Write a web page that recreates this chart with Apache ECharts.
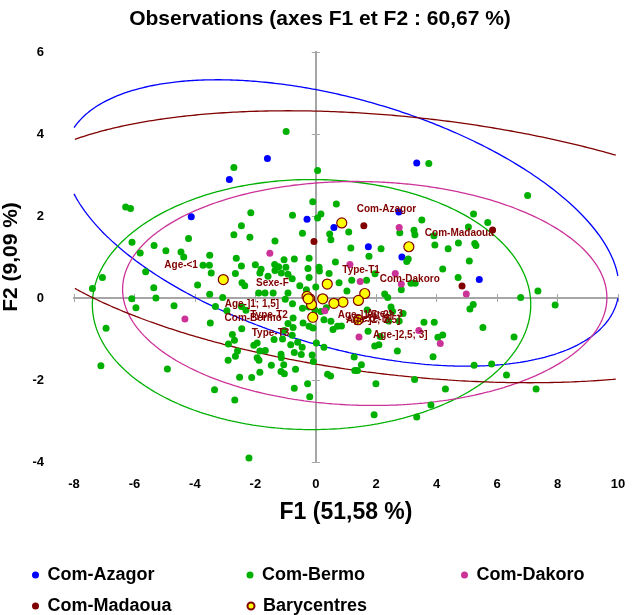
<!DOCTYPE html>
<html>
<head>
<meta charset="utf-8">
<script src="https://cdn.jsdelivr.net/npm/echarts@6/dist/echarts.min.js"></script>
<style>
html, body { margin: 0; padding: 0; background: #fff; }
#chart { width: 640px; height: 615px; }
</style>
</head>
<body>
<div id="chart"></div>
<script>
// observations on F1 / F2, one array per commune
var azagor = [[-1.60,3.40],[-2.86,2.89],[-4.12,1.98],[-0.29,1.92],[0.60,1.72],[3.34,3.29],[2.75,2.10],[1.74,1.25],[2.85,1.00],[5.41,0.45]];
var madaoua = [[-0.06,1.38],[1.59,1.76],[5.85,1.66],[4.84,0.29]];
var dakoro = [[-1.52,1.09],[-4.33,-0.51],[0.30,-0.31],[2.76,1.72],[1.13,0.82],[1.47,0.40],[2.63,0.60],[2.83,0.34],[4.98,0.10],[1.43,-0.95],[3.41,-0.79],[4.12,-1.11]];
var bermo = [
[-0.98,4.06],[-2.71,3.18],[0.06,3.11],[3.74,3.28],[-6.29,2.22],[-6.13,2.18],[-2.15,2.08],[-0.10,2.35],[0.68,2.29],[-0.77,2.02],
[0.17,2.05],[0.06,1.95],[7.01,2.50],[5.22,2.05],[3.51,1.90],[5.69,1.84],[-2.46,1.76],[-2.71,1.54],[-2.18,1.48],[-1.35,1.39],
[-0.44,1.58],[0.46,1.56],[0.50,1.42],[1.09,1.61],[2.78,1.59],[3.25,1.65],[3.28,1.54],[3.91,1.52],[5.05,1.73],[4.72,1.34],
[5.26,1.33],[5.30,1.28],[3.94,1.29],[4.38,1.20],[1.16,1.22],[2.16,1.20],[1.76,1.02],[3.06,0.95],[3.01,0.89],[5.08,0.90],
[4.20,0.71],[-4.21,1.45],[-6.08,1.36],[-5.35,1.28],[-5.81,1.10],[-4.96,1.15],[-4.46,1.12],[-4.37,1.00],[-3.51,1.04],[-2.63,0.97],
[-2.46,0.78],[-2.00,0.81],[-1.81,0.70],[-1.36,0.82],[-1.23,0.76],[-1.05,0.93],[-0.99,0.75],[-0.71,0.95],[-0.22,0.97],[-0.26,0.72],
[0.11,0.75],[0.65,0.88],[-3.73,0.80],[-3.52,0.80],[0.12,0.66],[0.44,0.60],[0.77,0.37],[1.19,0.43],[1.68,0.43],[1.96,0.59],
[1.03,0.17],[2.83,0.20],[3.15,0.36],[3.29,0.36],[4.71,0.50],[2.28,0.10],[2.38,0.01],[-0.53,0.30],[-0.31,0.20],[0.00,0.27],
[6.78,0.01],[7.35,0.17],[7.92,-0.17],[5.21,-0.16],[5.10,-0.27],[5.53,-0.72],[6.56,-0.95],[3.92,-0.59],[4.04,-0.96],[4.20,-0.90],
[2.09,-1.14],[1.95,-1.17],[1.73,-0.81],[2.13,-0.94],[2.70,-1.29],[3.88,-1.43],[1.27,-1.44],[1.51,-1.63],[1.29,-1.77],[1.38,-1.77],
[0.27,-1.20],[0.02,-1.10],[-0.12,-1.39],[-0.08,-1.55],[-0.45,-1.20],[-0.48,-1.38],[0.39,-1.86],[0.49,-1.90],[-0.27,-2.09],[-0.20,-2.41],
[1.99,-2.09],[3.27,-1.99],[4.29,-2.22],[5.24,-1.64],[5.82,-1.61],[6.31,-1.88],[7.29,-2.22],[3.81,-2.61],[3.34,-2.90],[1.93,-2.85],
[2.49,-0.22],[2.54,-0.33],[-0.03,-0.29],[0.27,-0.53],[0.50,-0.57],[0.72,-0.69],[0.85,-0.68],[1.70,-0.29],[2.41,-0.56],[2.76,-0.56],
[2.89,-0.38],[3.58,-0.59],
[-5.63,0.64],[-7.06,0.50],[-7.39,0.23],[-5.36,0.25],[-5.29,0.00],[-6.09,-0.02],[-5.95,-0.24],[-6.94,-0.74],[-7.11,-1.65],[-4.91,-1.73],
[-4.69,-0.19],[-3.91,0.32],[-3.51,0.09],[-3.46,0.61],[-3.32,-0.21],[-3.49,-0.61],[-3.08,0.01],[-2.44,0.37],[-2.35,0.30],[-1.89,0.12],
[-2.66,0.60],[-1.85,0.61],[-1.58,0.53],[-1.35,0.67],[-1.14,0.61],[-0.92,0.58],[-0.78,0.47],[-0.22,0.50],[-0.92,0.12],[-1.41,0.12],
[-1.01,-0.03],[-1.68,0.12],[-2.46,-0.21],[-2.31,-0.30],[-2.94,-0.31],[-2.76,-0.89],[-2.69,-1.03],[-2.45,-0.75],[-2.89,-1.12],[-2.59,-1.29],
[-2.66,-1.42],[-2.90,-1.52],[-2.05,-1.15],[-1.94,-1.10],[-1.85,-1.29],[-1.67,-1.28],[-1.94,-1.46],[-1.88,-1.52],[-1.47,-1.64],[-1.15,-1.37],
[-1.14,-1.46],[-1.06,-1.63],[-1.85,-1.81],[-1.15,-1.79],[-1.04,-1.85],[-0.67,-1.74],[-2.52,-1.93],[-2.12,-1.94],[-3.35,-2.24],[-2.68,-2.49],
[-0.71,-2.20],[-2.21,-3.90],[-0.71,-1.33],[-0.83,-1.14],[-0.60,-1.08],[-1.04,-0.79],[-0.78,-0.91],[-0.92,-0.62],[-1.38,-1.01],[-1.10,-1.00],
[-0.75,-0.72],[-0.42,-0.61],[-0.22,-0.69],[-0.09,-0.73],[0.57,-0.77],[-0.44,-0.25],[-0.23,-0.22],[0.17,-0.33],[0.35,-0.24],[-0.75,-0.49],
[-0.77,-0.14]
];

// barycentres of the modalities
var baryNames = ['Age-<1','Com-Azagor','Com-Madaoua','Type-T1','Com-Dakoro','Age-> 3','Sexe-M','Age-]2; 2,5]','Age-]1,5; 2]',
                 'Age-]1; 1,5]','Sexe-F','Com-Bermo','Type-T3','Age-]2,5; 3]','Type-T2'];
var baryValues = [[-3.06,0.45],[0.86,1.83],[3.08,1.25],[0.38,0.34],[1.62,0.11],[1.41,-0.06],[0.90,-0.10],[0.60,-0.13],[0.23,-0.02],
                  [-0.20,-0.02],[-0.29,0.04],[-0.14,-0.16],[-0.10,-0.47],[1.40,-0.53],[-0.25,-0.02]];
// label placement (pixels from the point), same order as baryNames
var labelOffsets = [[-59,-14],[15,-14],[16,-14],[15,-14],[15,-14],[8,14],[12,17],[12,17],[15,16],
                    [-85,5],[-51,-13],[-87,14],[-61,16],[15,16],[-58,16]];

// confidence ellipses: centre x, centre y, var x, cov xy, var y
var ellAzagor = [0.86, 1.83, 84.1, -14.4, 12.2];
var ellBermo = [-0.14, -0.16, 52.6, 0, 9.3];
var ellDakoro = [1.62, 0.11, 64.2, -0.81, 7.46];
var ellMadaoua = [3.08, 1.25, 182, -13.2, 11.0];

var X_MIN = -8, X_MAX = 10, Y_MIN = -4, Y_MAX = 6;
var BLUE = '#0000ff', GREEN = '#00b000', PINK = '#cc3399', DARKRED = '#800000';
var FONT = 'Liberation Sans';

// outline of an ellipse given by its centre and covariance, '-' where it leaves the plot
function ellipseOutline(e) {
  var l11 = Math.sqrt(e[2]), l21 = e[3] / l11, l22 = Math.sqrt(e[4] - l21 * l21);
  var out = [];
  var n = 720;
  for (var i = 0; i <= n; i++) {
    var t = i / n * 2 * Math.PI;
    var x = e[0] + l11 * Math.cos(t);
    var y = e[1] + l21 * Math.cos(t) + l22 * Math.sin(t);
    if (x >= X_MIN && x <= X_MAX && y >= Y_MIN && y <= Y_MAX) out.push([x, y]);
    else out.push('-');
  }
  return out;
}

function ellipseSeries(name, e, color) {
  return {
    name: name, type: 'line', data: ellipseOutline(e),
    showSymbol: false, symbol: 'none', connectNulls: false, silent: true, clip: true,
    lineStyle: { color: color, width: 1.3 }, itemStyle: { color: color },
    z: 1
  };
}

function dotSeries(name, data, color) {
  return {
    name: name, type: 'scatter', data: data, symbol: 'circle', symbolSize: 7,
    itemStyle: { color: color, opacity: 1 }, z: 3
  };
}

var baryData = [];
for (var i = 0; i < baryValues.length; i++) {
  baryData.push({
    name: baryNames[i],
    value: baryValues[i],
    label: { offset: labelOffsets[i] }
  });
}

var zeroLine = { color: '#a6a6a6', width: 2 };
var legendText = { fontFamily: FONT, fontWeight: 'bold', fontSize: 18, color: '#000', width: 185, lineHeight: 20 };

var myChart = echarts.init(document.getElementById('chart'));
var option = {
  animation: false,
  backgroundColor: '#fff',
  title: {
    text: 'Observations (axes F1 et F2 : 60,67 %)',
    left: 'center', top: 9, padding: 0,
    textStyle: { fontFamily: FONT, fontWeight: 'bold', fontSize: 21, color: '#000' }
  },
  legend: [
    {
      data: ['Com-Azagor', 'Com-Bermo', 'Com-Dakoro'],
      left: 32, top: 565, width: 720, padding: 0, itemGap: 14,
      itemWidth: 14, itemHeight: 7, icon: 'circle', textStyle: legendText
    },
    {
      data: ['Com-Madaoua', 'Barycentres'],
      left: 32, top: 596, width: 720, padding: 0, itemGap: 14,
      itemWidth: 14, itemHeight: 7, icon: 'circle', textStyle: legendText
    }
  ],
  grid: { left: 74, top: 52, width: 544, height: 410, outerBoundsMode: 'none', containLabel: false },
  xAxis: [
    {
      type: 'value', min: X_MIN, max: X_MAX, interval: 2, position: 'bottom',
      axisLine: { show: false, onZero: false }, axisTick: { show: false }, splitLine: { show: false },
      axisLabel: { fontFamily: FONT, fontWeight: 'bold', fontSize: 13, color: '#000', margin: 16 },
      name: 'F1 (51,58 %)', nameLocation: 'middle', nameGap: 39,
      nameTextStyle: { fontFamily: FONT, fontWeight: 'bold', fontSize: 23, color: '#000' }
    },
    {
      type: 'value', min: X_MIN, max: X_MAX, interval: 2, position: 'top',
      axisLine: { onZero: true, onZeroAxisIndex: 0, lineStyle: zeroLine },
      axisTick: { length: 4, lineStyle: { color: '#a6a6a6' } },
      axisLabel: { show: false }, splitLine: { show: false }
    },
    {
      type: 'value', min: X_MIN, max: X_MAX, interval: 2, position: 'top',
      axisLine: { onZero: true, onZeroAxisIndex: 0, lineStyle: zeroLine },
      axisTick: { inside: true, length: 4, lineStyle: { color: '#a6a6a6' } },
      axisLabel: { show: false }, splitLine: { show: false }
    }
  ],
  yAxis: [
    {
      type: 'value', min: Y_MIN, max: Y_MAX, interval: 2, position: 'left',
      axisLine: { show: false, onZero: false }, axisTick: { show: false }, splitLine: { show: false },
      axisLabel: { fontFamily: FONT, fontWeight: 'bold', fontSize: 13, color: '#000', margin: 30 },
      name: 'F2 (9,09 %)', nameLocation: 'middle', nameGap: 46,
      nameTextStyle: { fontFamily: FONT, fontWeight: 'bold', fontSize: 21, color: '#000' }
    },
    {
      type: 'value', min: Y_MIN, max: Y_MAX, interval: 2, position: 'right',
      axisLine: { onZero: true, onZeroAxisIndex: 0, lineStyle: zeroLine },
      axisTick: { length: 4, lineStyle: { color: '#a6a6a6' } },
      axisLabel: { show: false }, splitLine: { show: false }
    },
    {
      type: 'value', min: Y_MIN, max: Y_MAX, interval: 2, position: 'right',
      axisLine: { onZero: true, onZeroAxisIndex: 0, lineStyle: zeroLine },
      axisTick: { inside: true, length: 4, lineStyle: { color: '#a6a6a6' } },
      axisLabel: { show: false }, splitLine: { show: false }
    }
  ],
  series: [
    ellipseSeries('ell-Azagor', ellAzagor, BLUE),
    ellipseSeries('ell-Bermo', ellBermo, GREEN),
    ellipseSeries('ell-Dakoro', ellDakoro, PINK),
    ellipseSeries('ell-Madaoua', ellMadaoua, DARKRED),
    dotSeries('Com-Azagor', azagor, BLUE),
    dotSeries('Com-Bermo', bermo, GREEN),
    dotSeries('Com-Dakoro', dakoro, PINK),
    dotSeries('Com-Madaoua', madaoua, DARKRED),
    {
      name: 'Barycentres', type: 'scatter', data: baryData, symbol: 'circle', symbolSize: 10, z: 4,
      itemStyle: { color: '#ffff00', borderColor: DARKRED, borderWidth: 1.2, opacity: 1 },
      label: {
        show: true, position: 'inside', align: 'left', verticalAlign: 'middle',
        formatter: '{b}', fontFamily: FONT, fontWeight: 'bold', fontSize: 10, color: DARKRED
      }
    }
  ]
};
myChart.setOption(option);
</script>
</body>
</html>
